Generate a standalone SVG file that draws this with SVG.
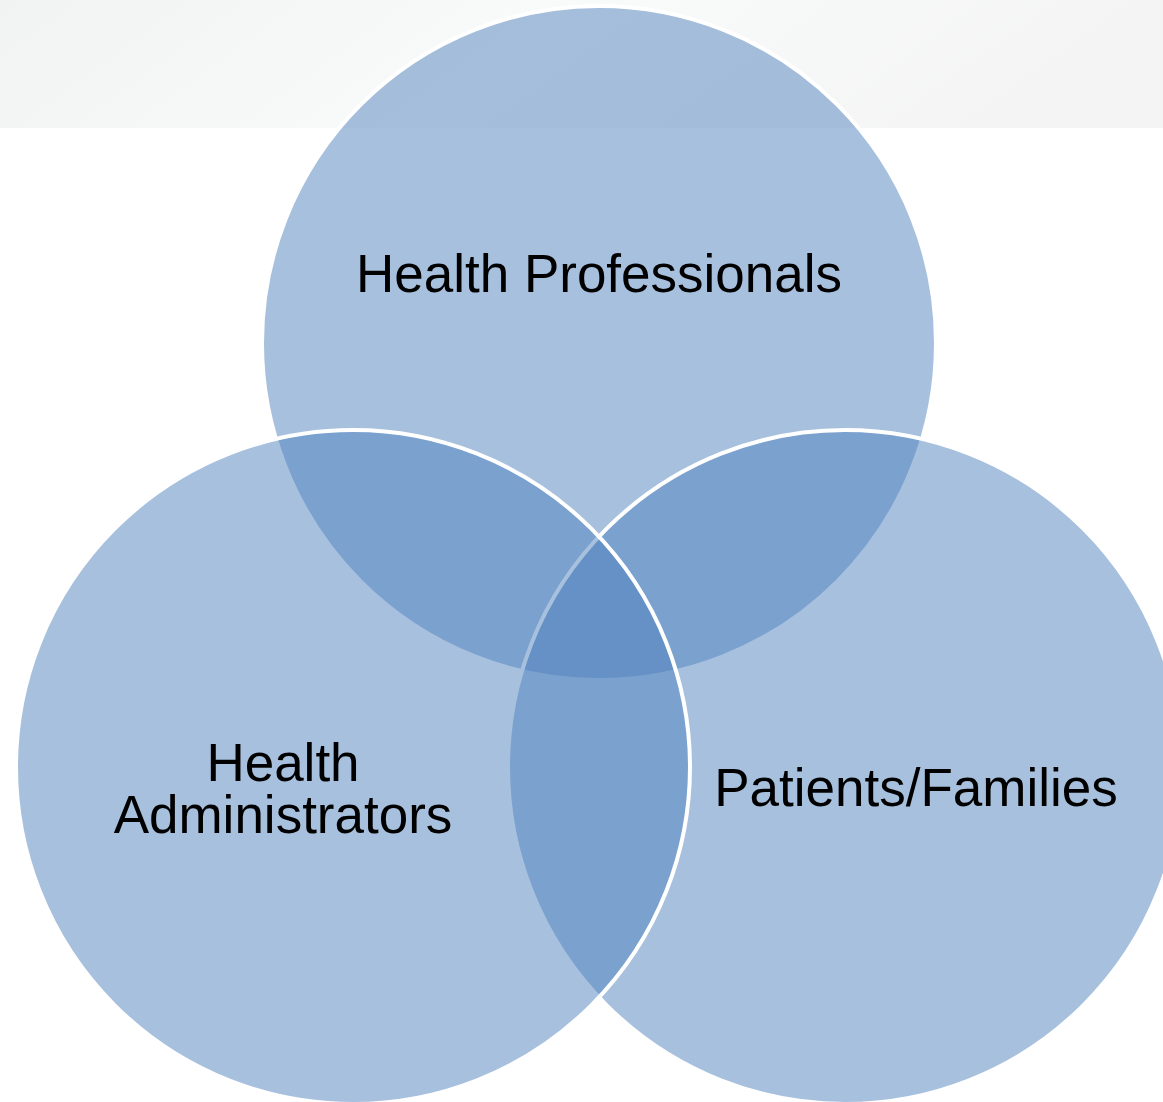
<svg xmlns="http://www.w3.org/2000/svg" width="1163" height="1102" viewBox="0 0 1163 1102">
  <defs>
    <linearGradient id="band" x1="0" y1="0" x2="1" y2="0.15">
      <stop offset="0" stop-color="#F1F2F2"/>
      <stop offset="0.5" stop-color="#F9FAFA"/>
      <stop offset="1" stop-color="#F4F4F4"/>
    </linearGradient>
  </defs>
  <style>
    .set { fill: #4F81BD; fill-opacity: 0.5; stroke: #FFFFFF; stroke-width: 4; }
    .label { font-family: "Liberation Sans", Arial, sans-serif; font-size: 53px; fill: #000000; text-anchor: middle; }
  </style>
  <rect x="0" y="0" width="1163" height="1102" fill="#FFFFFF"/>
  <rect x="0" y="0" width="1163" height="128" fill="url(#band)"/>

  <!-- paint order: top, right, left (left outline stays white over the others) -->
  <g id="health-professionals">
    <circle class="set" cx="599" cy="343" r="337"/>
    <text class="label" x="599" y="292">Health Professionals</text>
  </g>
  <g id="patients-families">
    <circle class="set" cx="845" cy="767" r="337"/>
  </g>
  <g id="health-administrators">
    <circle class="set" cx="353" cy="767" r="337"/>
  </g>

  <!-- labels drawn above all fills so overlapping circles never tint them -->
  <g id="labels">
    <text class="label" x="283" y="781">Health</text>
    <text class="label" x="283" y="833">Administrators</text>
    <text class="label" x="916" y="806">Patients/Families</text>
  </g>
  <g id="connectors"/>
</svg>
